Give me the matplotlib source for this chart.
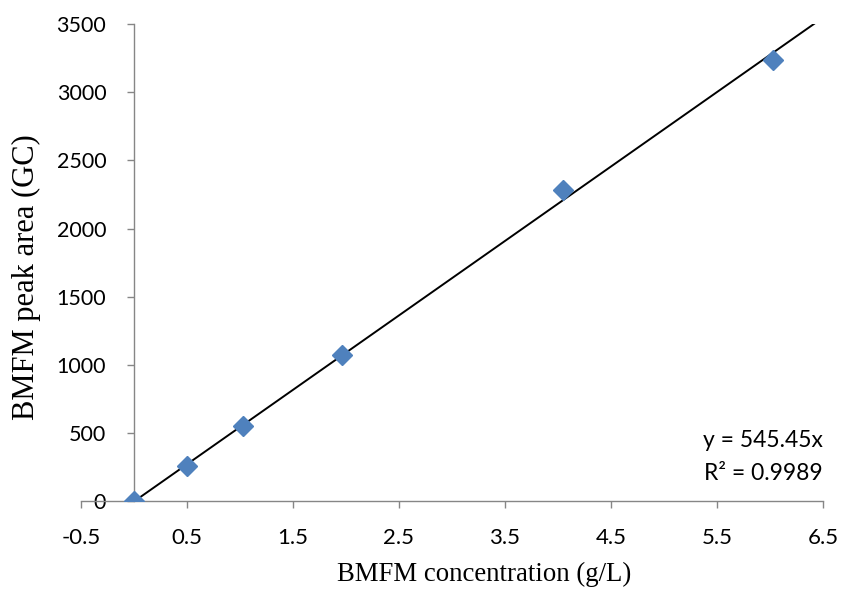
import numpy as np
import matplotlib
matplotlib.use("Agg")
from matplotlib import pyplot as plt

# calibration data
conc = [0.0, 0.5, 1.03, 1.96, 4.05, 6.03]
area = [0, 263, 550, 1072, 2280, 3235]
slope = 545.45
r2 = 0.9989

x_ticks = [-0.5, 0.5, 1.5, 2.5, 3.5, 4.5, 5.5, 6.5]
y_ticks = [0, 500, 1000, 1500, 2000, 2500, 3000, 3500]

tick_font = ['Lato', 'DejaVu Sans']
label_font = ['Liberation Serif', 'DejaVu Serif']
spine_col = '#868686'

fig = plt.figure(figsize=(8.44, 5.97), dpi=100)
ax = fig.add_axes([0.096, 0.16, 0.879, 0.8])

fit_x = np.array([0.0, 6.5])
ax.plot(fit_x, slope * fit_x, color='black', lw=1.4, zorder=2)
ax.plot(conc, area, linestyle='none', marker='D', ms=10.5,
        color='#4F81BD', zorder=3)

# y axis crosses at x = 0 (has to be set before the tick styling)
ax.spines['left'].set_position(('data', 0))
ax.spines['top'].set_visible(False)
ax.spines['right'].set_visible(False)
for s in ('left', 'bottom'):
    ax.spines[s].set_color(spine_col)
    ax.spines[s].set_linewidth(1.0)

ax.set_xlim(-0.5, 6.5)
ax.set_ylim(0, 3500)
ax.set_xticks(x_ticks)
ax.set_yticks(y_ticks)
ax.set_xticklabels([f'{v:g}' for v in x_ticks], family=tick_font, fontsize=16)
ax.set_yticklabels([f'{v:g}' for v in y_ticks], family=tick_font, fontsize=15.5)

ax.tick_params(axis='both', direction='out', length=5, width=1.0,
               color=spine_col, labelcolor='black')
ax.tick_params(axis='x', pad=14)
ax.tick_params(axis='y', pad=15)

fig.text(0.574, 0.037, 'BMFM concentration (g/L)', family=label_font,
         fontsize=19.3, ha='center', va='center')
fig.text(0.031, 0.535, 'BMFM peak area (GC)', family=label_font,
         fontsize=22, ha='center', va='center', rotation=90)

ax.text(0.9995, 0.093, f'y = {slope}x\nR² = {r2}', transform=ax.transAxes,
        family=tick_font, fontsize=16.5, ha='right', va='center',
        linespacing=1.75)

fig.savefig('out.png', dpi=100)
